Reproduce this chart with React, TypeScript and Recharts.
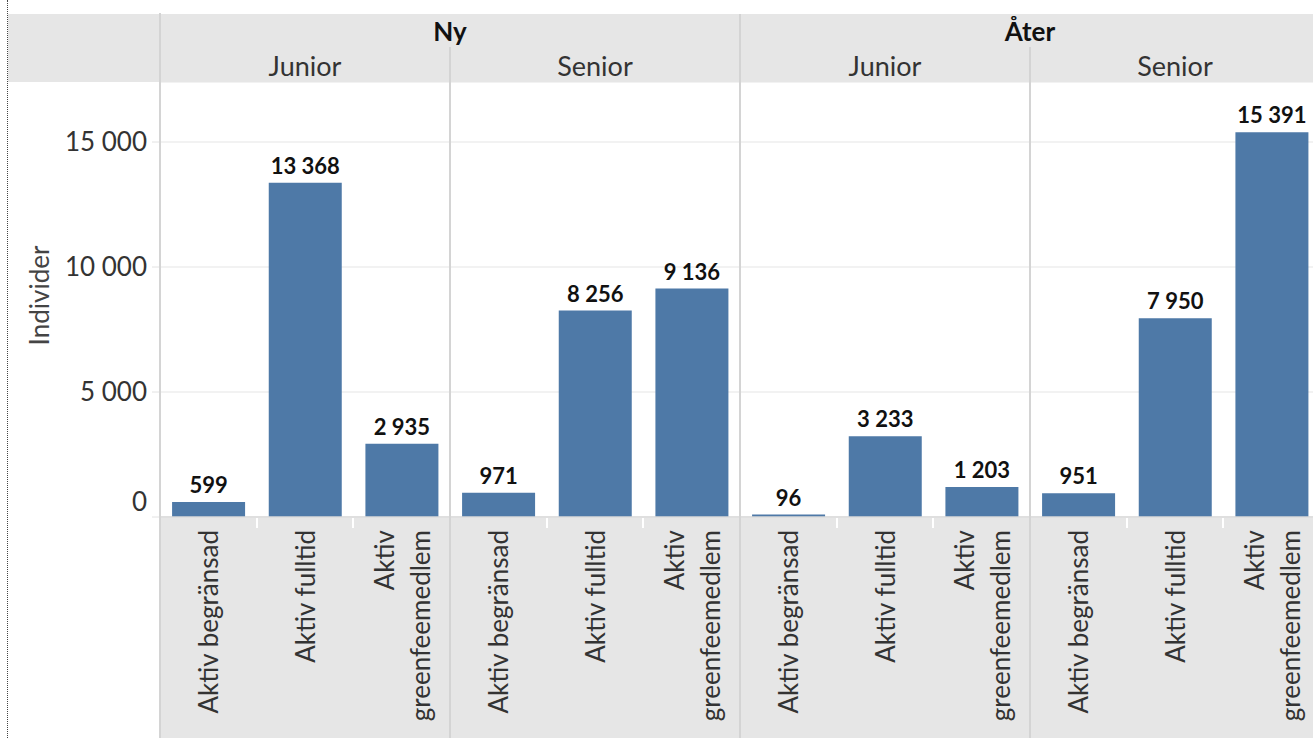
import React from 'react';
import { BarChart, Bar, XAxis, YAxis, CartesianGrid, LabelList } from 'recharts';

// Gruppering: Ny / Åter, sedan Junior / Senior
const groups = ['Ny', 'Åter'];
const segments = ['Junior', 'Senior'];
const categories = ['Aktiv begränsad', 'Aktiv fulltid', 'Aktiv greenfeemedlem'];
const categoryLines = [['Aktiv begränsad'], ['Aktiv fulltid'], ['Aktiv', 'greenfeemedlem']];

const nyJunior = [599, 13368, 2935];
const nySenior = [971, 8256, 9136];
const aterJunior = [96, 3233, 1203];
const aterSenior = [951, 7950, 15391];

const yTicks = [0, 5000, 10000, 15000];

const seriesByPanel = [nyJunior, nySenior, aterJunior, aterSenior];

const data = seriesByPanel.flatMap((values, p) =>
  values.map((value, c) => ({
    key: `${groups[Math.floor(p / 2)]}|${segments[p % 2]}|${c}`,
    cat: c,
    value,
  }))
);

const fmt = (v: number) => String(v).replace(/\B(?=(\d{3})+(?!\d))/g, ' ');

const FONT = 'Lato, "Noto Sans", sans-serif';
const CHART_W = 1320;
const CHART_H = 738;
const TOP = 82;
const LEFT = 160;
const X_AXIS_H = 221;
const PLOT_W = CHART_W - LEFT;
const PANEL_W = PLOT_W / seriesByPanel.length;
const BAND_W = PANEL_W / categories.length;
const LINE = '#d4d4d4';
const BAND_BG = '#e6e6e6';

const CategoryTick = (props: any) => {
  const { x, y, payload } = props;
  const item = data[payload.index];
  const lines = categoryLines[item ? item.cat : 0];
  const spacing = 36;
  const start = -((lines.length - 1) * spacing) / 2 + 1;
  return (
    <g transform={`translate(${x},${y})`}>
      <text transform="rotate(-90)" textAnchor="end" fontSize={26} fill="#333" fontFamily={FONT}>
        {lines.map((l, i) => (
          <tspan key={i} x={0} y={start + i * spacing} dy="0.35em">
            {l}
          </tspan>
        ))}
      </text>
    </g>
  );
};

// nollan lyfts upp lite, som i originalet
const ValueTick = (props: any) => {
  const { x, y, payload } = props;
  const shift = payload.value === 0 ? -15 : 0;
  return (
    <text x={x} y={y + shift} dy="0.35em" textAnchor="end" fontSize={26} fill="#333" fontFamily={FONT}>
      {fmt(payload.value)}
    </text>
  );
};

const YLabel = (props: any) => {
  const vb = props.viewBox;
  const cx = vb.x + 39;
  const cy = vb.y + vb.height / 2 - 4;
  return (
    <text x={cx} y={cy} transform={`rotate(-90, ${cx}, ${cy})`} textAnchor="middle" dominantBaseline="central" fontSize={26} fill="#444" fontFamily={FONT}>
      Individer
    </text>
  );
};

const App: React.FC = () => {
  const vline = (x: number, top: number) => (
    <div key={`v-${x}-${top}`} style={{ position: 'absolute', left: x - 1, top, width: 2, height: CHART_H - top, background: LINE }} />
  );

  return (
    <div style={{ position: 'absolute', left: 0, top: 0, width: 1313, height: 738, overflow: 'hidden', background: '#fff', fontFamily: FONT }}>
      {/* bakgrundsband */}
      <div style={{ position: 'absolute', left: 8, top: 14, width: 1313, height: TOP - 14, background: BAND_BG }} />
      <div style={{ position: 'absolute', left: LEFT, top: TOP - 1, width: 1313, height: 1, background: '#cfcfcf' }} />
      <div style={{ position: 'absolute', left: LEFT, top: CHART_H - X_AXIS_H + 1, width: 1313, height: X_AXIS_H, background: BAND_BG }} />
      <div style={{ position: 'absolute', left: 7, top: 0, width: 0, height: 738, borderLeft: '1px dotted #444' }} />

      <div style={{ position: 'absolute', left: 0, top: 0 }}>
        <BarChart width={CHART_W} height={CHART_H} data={data} margin={{ top: TOP, right: 0, left: 0, bottom: 0 }} barCategoryGap="12.5%">
          <CartesianGrid horizontal vertical={false} stroke="#eeeeee" strokeWidth={1.5} />
          <XAxis
            dataKey="key"
            interval={0}
            height={X_AXIS_H}
            tick={<CategoryTick />}
            tickLine={false}
            tickSize={0}
            tickMargin={13}
            axisLine={{ stroke: '#d8d8d8', strokeWidth: 1.5 }}
          />
          <YAxis
            width={LEFT}
            domain={[0, 17400]}
            ticks={yTicks}
            tick={<ValueTick />}
            tickSize={8}
            tickMargin={5}
            tickLine={{ stroke: '#e2e2e2' }}
            axisLine={false}
            label={<YLabel />}
          />
          <Bar dataKey="value" fill="#4e79a7" isAnimationActive={false}>
            <LabelList dataKey="value" position="top" offset={9} formatter={(v: any) => fmt(Number(v))} fill="#111" fontSize={22} fontWeight={700} fontFamily={FONT} />
          </Bar>
        </BarChart>
      </div>

      {/* små vita streck mellan staplarna i x-axelns band */}
      {data.map((d, i) =>
        d.cat > 0 ? (
          <div key={`t-${i}`} style={{ position: 'absolute', left: LEFT + i * BAND_W - 1, top: CHART_H - X_AXIS_H + 1, width: 2, height: 10, background: '#fff' }} />
        ) : null
      )}

      {/* avdelare */}
      {vline(LEFT, 13)}
      {groups.map((_, g) => (g > 0 ? vline(LEFT + g * PANEL_W * segments.length, 14) : null))}
      {seriesByPanel.map((_, p) => (p % 2 === 1 ? vline(LEFT + p * PANEL_W, 47) : null))}

      {/* rubriker */}
      {groups.map((g, gi) => (
        <div key={g} style={{ position: 'absolute', left: LEFT + gi * PANEL_W * 2, top: 15, width: PANEL_W * 2, textAlign: 'center', fontSize: 26, fontWeight: 700, color: '#111', lineHeight: '32px' }}>
          {g}
        </div>
      ))}
      {seriesByPanel.map((_, p) => (
        <div key={`s-${p}`} style={{ position: 'absolute', left: LEFT + p * PANEL_W, top: 50, width: PANEL_W, textAlign: 'center', fontSize: 27, color: '#333', lineHeight: '32px' }}>
          {segments[p % 2]}
        </div>
      ))}
    </div>
  );
};

export default App;
